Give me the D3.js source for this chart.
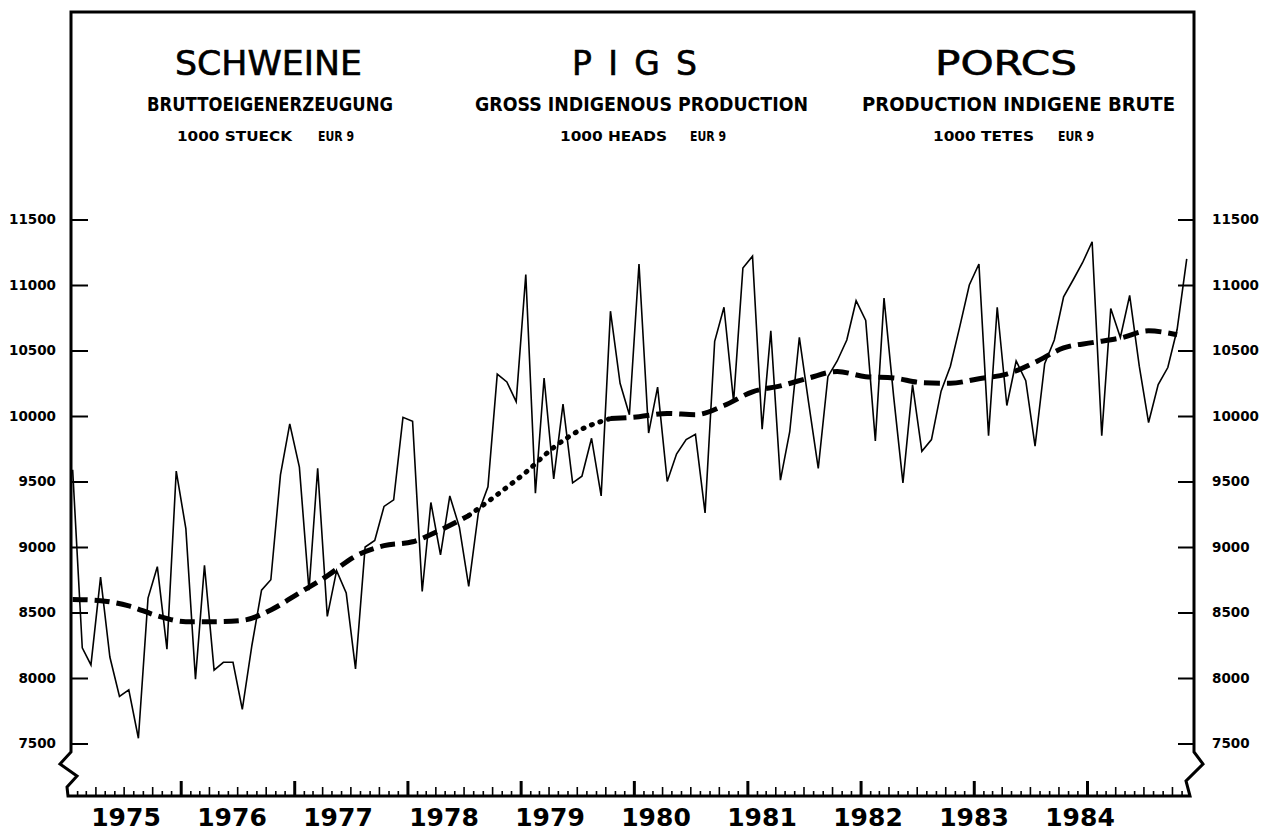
<!DOCTYPE html>
<html>
<head>
<meta charset="utf-8">
<title>Schweine / Pigs / Porcs</title>
<script src="https://d3js.org/d3.v7.min.js"></script>
<style>
    html, body { margin: 0; padding: 0; background: #fff; }
    #chart { width: 1274px; height: 832px; }
    text { fill: #000; }
</style>
</head>
<body>
<div id="chart"></div>
<script>
// Monthly gross indigenous production, 1000 heads, EUR 9, Jan 1975 - Nov 1984
const startYear = 1975;
const years = [1975, 1976, 1977, 1978, 1979, 1980, 1981, 1982, 1983, 1984];

const production = [
    9590, 8230, 8100, 8770, 8160, 7860, 7910, 7540, 8610, 8850, 8220, 9580,   // 1975
    9140, 7990, 8860, 8060, 8120, 8120, 7760, 8250, 8670, 8750, 9550, 9940,   // 1976
    9610, 8670, 9600, 8470, 8820, 8650, 8070, 9000, 9050, 9310, 9360, 9990,   // 1977
    9960, 8660, 9340, 8940, 9390, 9150, 8700, 9260, 9460, 10320, 10260, 10110, // 1978
    11080, 9410, 10290, 9520, 10090, 9490, 9540, 9830, 9390, 10800, 10250, 10010, // 1979
    11160, 9870, 10220, 9500, 9710, 9820, 9860, 9260, 10570, 10830, 10110, 11130, // 1980
    11220, 9900, 10650, 9510, 9880, 10600, 10100, 9600, 10300, 10420, 10580, 10880, // 1981
    10730, 9810, 10900, 10150, 9490, 10240, 9730, 9820, 10190, 10380, 10690, 11000, // 1982
    11160, 9850, 10830, 10080, 10420, 10270, 9770, 10400, 10580, 10910, 11040, 11170, // 1983
    11330, 9850, 10820, 10600, 10920, 10380, 9950, 10240, 10370, 10660, 11200         // 1984
];

// trend line, read every third month (Jan, Apr, Jul, Oct)
const trendStep = 3;
const trend = [
    8600, 8590, 8550, 8475, 8430, 8430, 8440, 8520, 8650, 8780,
    8930, 9010, 9040, 9130, 9240, 9400, 9570, 9760, 9900, 9980,
    9995, 10020, 10010, 10080, 10185, 10230, 10290, 10340, 10300, 10290,
    10255, 10250, 10285, 10320, 10410, 10520, 10560, 10595, 10650, 10620
];

const yTicks = [7500, 8000, 8500, 9000, 9500, 10000, 10500, 11000, 11500];

const titles = ["SCHWEINE", "PIGS", "PORCS"];
const subtitles = ["BRUTTOEIGENERZEUGUNG", "GROSS INDIGENOUS PRODUCTION", "PRODUCTION INDIGENE BRUTE"];
const units = ["1000 STUECK", "1000 HEADS", "1000 TETES"];
const regionLabel = "EUR 9";

function drawChart(element, width, height) {
    const container = d3.select(`#${element}`);
    container.selectAll("*").remove();

    const svg = container.append("svg")
        .attr("width", width)
        .attr("height", height)
        .style("background", "#fff");

    const left = 71, right = 1194, top = 12, baseY = 796;

    // scales
    const x = d3.scaleTime()
        .domain([new Date(startYear, 0, 1), new Date(startYear + 10, 0, 1)])
        .range([68, 1201]);

    const y = d3.scaleLinear()
        .domain([7500, 11500])
        .range([743.5, 219.5]);

    // frame with the broken-axis zigzags at the bottom corners
    svg.append("path")
        .attr("d", `M68,${baseY} L67,787 L77,776 L60,764 L${left},752 L${left},${top}
                    L${right},${top} L${right},752 L1203,764 L1186,781 L1190,${baseY} Z`)
        .attr("fill", "none")
        .attr("stroke", "#000")
        .attr("stroke-width", 3)
        .attr("stroke-linejoin", "miter");

    // value axes, ticks pointing inside the frame
    const axisFont = "DejaVu Sans, sans-serif";
    const leftAxis = svg.append("g")
        .attr("transform", `translate(${left},0)`)
        .call(d3.axisLeft(y).tickValues(yTicks).tickSize(-17).tickPadding(15).tickFormat(d3.format("d")));
    const rightAxis = svg.append("g")
        .attr("transform", `translate(${right},0)`)
        .call(d3.axisRight(y).tickValues(yTicks).tickSize(-16).tickPadding(18).tickFormat(d3.format("d")));

    [leftAxis, rightAxis].forEach(ax => {
        ax.select(".domain").remove();
        ax.selectAll(".tick line").attr("stroke", "#000").attr("stroke-width", 2);
        ax.selectAll(".tick text")
            .attr("fill", "#000")
            .attr("font-family", axisFont)
            .attr("font-weight", "bold")
            .attr("font-size", "13.5px");
    });

    // time axis: month, quarter and year ticks
    const end = new Date(1984, 11, 1);
    const monthTicks = d3.timeMonth.range(new Date(startYear, 1, 1), end);
    svg.append("g")
        .selectAll("line")
        .data(monthTicks)
        .enter()
        .append("line")
        .attr("x1", d => x(d))
        .attr("x2", d => x(d))
        .attr("y1", baseY)
        .attr("y2", d => {
            if (d.getMonth() === 0) return baseY - 15;
            if (d.getMonth() % 3 === 0) return baseY - 9;
            return baseY - 5;
        })
        .attr("stroke", "#000")
        .attr("stroke-width", d => d.getMonth() === 0 ? 3 : 1.6);

    // year labels
    const yearPos = d3.scalePoint()
        .domain(years)
        .range([126, 1080]);

    svg.append("g")
        .selectAll("text")
        .data(years)
        .enter()
        .append("text")
        .attr("x", d => yearPos(d))
        .attr("y", 826)
        .attr("text-anchor", "middle")
        .attr("font-family", axisFont)
        .attr("font-weight", "bold")
        .attr("font-size", "25px")
        .text(d => d);

    // monthly series
    const line = d3.line()
        .x((d, i) => x(new Date(startYear, i, 16)))
        .y(d => y(d));

    svg.append("path")
        .datum(production)
        .attr("d", line)
        .attr("fill", "none")
        .attr("stroke", "#000")
        .attr("stroke-width", 1.6)
        .attr("stroke-linejoin", "miter");

    // trend, drawn thick and dashed; dotted through 1978/79
    const trendPoints = trend.map((v, k) => ({ date: new Date(startYear, k * trendStep, 16), value: v }));
    const trendLine = d3.line()
        .curve(d3.curveMonotoneX)
        .x(d => x(d.date))
        .y(d => y(d.value));

    const pieces = [
        { from: 0, to: 14, dash: "15 7", cap: "butt" },
        { from: 14, to: 19, dash: "1 8", cap: "round" },
        { from: 19, to: trend.length - 1, dash: "16 7", cap: "butt" }
    ];
    pieces.forEach(p => {
        svg.append("path")
            .datum(trendPoints.slice(p.from, p.to + 1))
            .attr("d", trendLine)
            .attr("fill", "none")
            .attr("stroke", "#000")
            .attr("stroke-width", 5)
            .attr("stroke-linecap", p.cap)
            .attr("stroke-dasharray", p.dash);
    });

    // headings in three languages
    const titleFont = "DejaVu Sans, sans-serif";
    const titleX = [175, 572, 935], titleW = [187, 125, 142];
    const titleAdjust = ["spacingAndGlyphs", "spacing", "spacingAndGlyphs"];
    const subX = [147, 475, 862], subW = [246, 333, 313];
    const unitX = [177, 560, 933], unitW = [115, 107, 101];
    const eurX = [318, 690, 1058];

    const head = svg.append("g");
    titles.forEach((t, i) => {
        head.append("text")
            .attr("x", titleX[i]).attr("y", 75)
            .attr("font-family", titleFont)
            .attr("font-size", "33px")
            .attr("stroke", "#000")
            .attr("stroke-width", 0.6)
            .attr("textLength", titleW[i])
            .attr("lengthAdjust", titleAdjust[i])
            .text(t);

        head.append("text")
            .attr("x", subX[i]).attr("y", 111)
            .attr("font-family", titleFont)
            .attr("font-weight", "bold")
            .attr("font-size", "19px")
            .attr("textLength", subW[i])
            .attr("lengthAdjust", "spacingAndGlyphs")
            .text(subtitles[i]);

        head.append("text")
            .attr("x", unitX[i]).attr("y", 141)
            .attr("font-family", titleFont)
            .attr("font-weight", "bold")
            .attr("font-size", "14px")
            .attr("textLength", unitW[i])
            .attr("lengthAdjust", "spacingAndGlyphs")
            .text(units[i]);

        head.append("text")
            .attr("x", eurX[i]).attr("y", 141)
            .attr("font-family", titleFont)
            .attr("font-weight", "bold")
            .attr("font-size", "14px")
            .attr("textLength", 36)
            .attr("lengthAdjust", "spacingAndGlyphs")
            .text(regionLabel);
    });
}

drawChart("chart", 1274, 832);
</script>
</body>
</html>
